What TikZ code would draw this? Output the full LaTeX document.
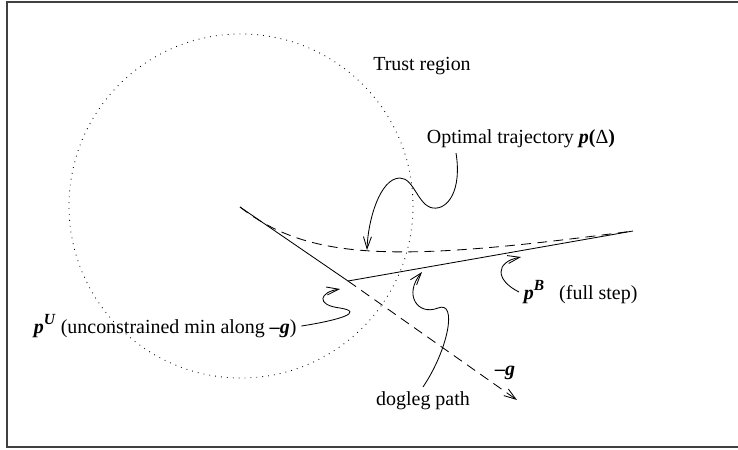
\documentclass[tikz,border=0pt]{standalone}
\usepackage{fontspec}
\setmainfont{Liberation Serif}
\usetikzlibrary{arrows.meta}

\newcommand{\bv}[1]{\textbf{\textit{#1}}}
\newcommand{\bsup}[1]{\raisebox{0.45em}{\fontsize{11}{12}\selectfont\bv{#1}}}

\begin{document}
\begin{tikzpicture}[
    x=0.025cm, y=-0.025cm,
    every node/.style={font=\fontsize{14.2}{16}\selectfont},
    frame/.style={draw=black!75, line width=1.4pt},
    region/.style={line width=0.6pt, dash pattern=on 0.6pt off 3.6pt},
    dogleg/.style={line width=0.6pt},
    traj/.style={line width=0.6pt, dash pattern=on 7pt off 4.5pt},
    pointer/.style={->, >={Straight Barb[length=3mm,width=2mm]}, line width=0.6pt}
]
    \useasboundingbox (0,0) rectangle (738,449);
    \draw[frame] (738,2) -- (7,2) -- (7,447) -- (738,447);

    % Trust region
    \draw[region] (241,206) circle[radius=172];
    \node (trust) at (422,66) {Trust region};

    % Points on the paths
    \coordinate (O) at (240,207);
    \coordinate (pU) at (348,281);
    \coordinate (pB) at (633,231);
    \coordinate (gtip) at (517,400);

    % Steepest descent and dogleg
    \draw[dogleg] (O) -- (pU) -- (pB);
    \draw[traj, pointer] (pU) -- (gtip);
    \draw[traj] (O) .. controls (310,262) and (400,262) .. (pB);

    % Labels
    \node[anchor=west] (opt) at (422,139) {Optimal trajectory \bv{p}\textbf{(}Δ\textbf{)}};
    \node[anchor=west] (pb) at (519,292) {\bv{p}\bsup{B}\ \ \ (full step)};
    \node[anchor=west] (pu) at (29,326) {\bv{p}\bsup{U} (unconstrained min along \bv{–g})};
    \node (dog) at (423,401) {dogleg path};
    \node (mg) at (505,373) {\bv{–g}};

    % Pointers
    \coordinate (optend) at (367,250);
    \coordinate (pbend) at (521,257);
    \coordinate (dogend) at (422,272);
    \coordinate (puend) at (340,289);

    \draw[pointer] ([xshift=0.85cm]opt.south west) .. controls (462,190) and (448,210) .. (433,208)
        .. controls (418,206) and (414,178) .. (400,178)
        .. controls (380,178) and (368,220) .. (optend);
    \draw[pointer] (pb.west) .. controls (495,280) and (495,262) .. (pbend);
    \draw[pointer] (dog.north) .. controls (448,350) and (458,300) .. (438,308)
        .. controls (418,316) and (403,295) .. (dogend);
    \draw[pointer] (pu.east) .. controls (340,320) and (365,312) .. (340,308)
        .. controls (315,305) and (320,292) .. (puend);
\end{tikzpicture}
\end{document}
